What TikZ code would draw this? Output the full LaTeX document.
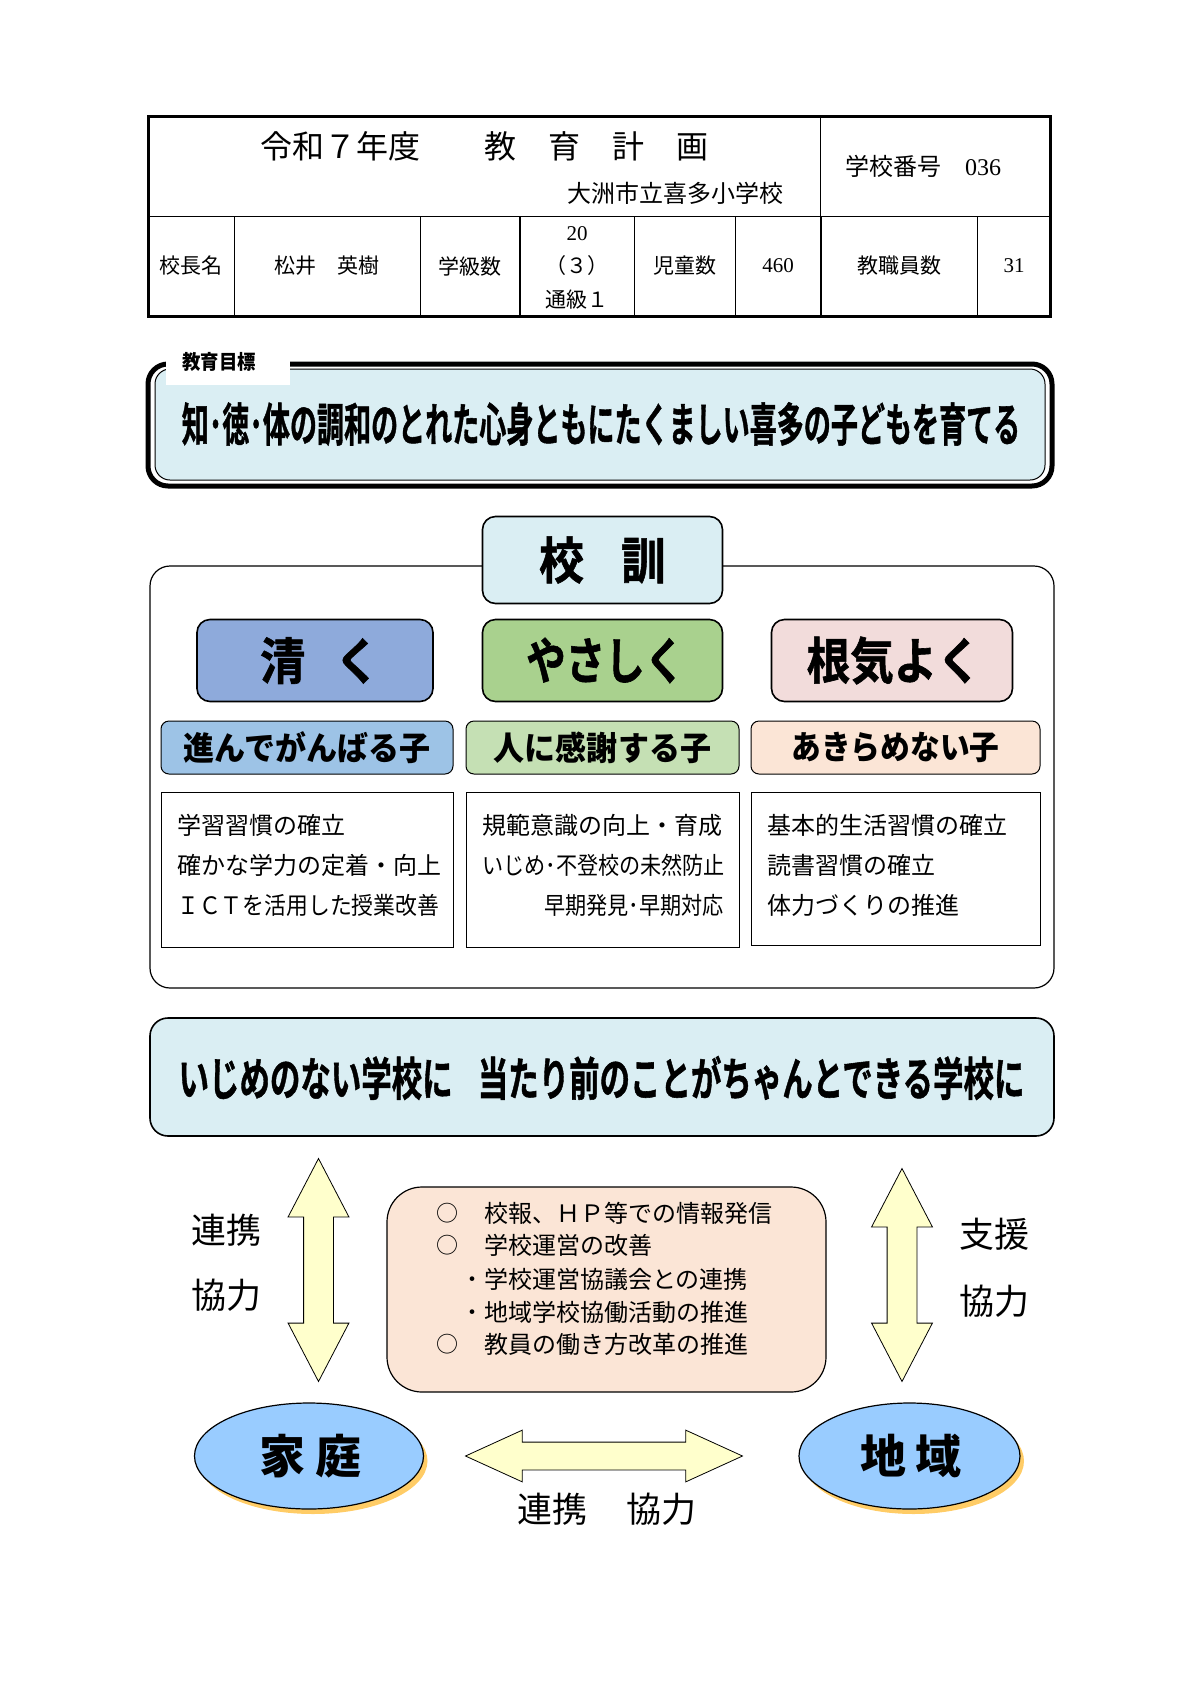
\documentclass[tikz,border=0pt]{standalone}
\usepackage{fontspec}
\setmainfont{Noto Sans CJK JP}
\newfontfamily\numfont{Liberation Serif}
\newfontfamily\heavyfont[FakeBold=1.2]{Noto Sans CJK JP Bold}
\usepackage{tikz}
\usetikzlibrary{shapes.geometric}
\usetikzlibrary{shapes.arrows}
\usetikzlibrary{shadows}

\definecolor{paleblue}{HTML}{DAEEF3}
\definecolor{kiyoblue}{HTML}{8EAADB}
\definecolor{yasagreen}{HTML}{A9D18E}
\definecolor{konpink}{HTML}{F2DCDB}
\definecolor{kiyosub}{HTML}{9DC3E6}
\definecolor{yasasub}{HTML}{C5E0B4}
\definecolor{peach}{HTML}{FBE5D6}
\definecolor{arrowyellow}{HTML}{FFFFCC}
\definecolor{homeblue}{HTML}{99CCFF}
\definecolor{shadowgold}{HTML}{FFCC66}

\newcommand{\sized}[1]{\fontsize{#1}{#1}\selectfont}

\begin{document}
\begin{tikzpicture}[
    x=1pt, y=-1pt,
    cell/.style={
        % The shape:
        rectangle,
        inner sep=0pt,
        % The border
        draw=black,
        line width=.8pt,
        % Font
        font=\sized{21}
    },
    panel/.style={
        % The shape:
        rectangle,
        rounded corners=13pt,
        inner sep=0pt,
        % The border
        draw=black,
        line width=1.6pt
    },
    motto/.style={
        panel,
        minimum width=240pt,
        minimum height=82pt,
        font=\sized{50}\heavyfont
    },
    childbox/.style={
        panel,
        rounded corners=8pt,
        line width=1pt,
        minimum height=53pt,
        font=\sized{33}\bfseries
    },
    habitbox/.style={
        rectangle,
        draw=black,
        line width=1pt
    },
    habit/.style={
        anchor=west,
        inner sep=0pt,
        font=\sized{24}
    },
    planmarker/.style={
        inner sep=0pt,
        text height=20pt,
        text depth=4pt,
        font=\sized{22}
    },
    twoway/.style={
        % The shape:
        double arrow,
        inner xsep=0pt,
        % The border
        draw=black,
        line width=.8pt,
        % The filling
        fill=arrowyellow
    },
    partner/.style={
        % The shape:
        ellipse,
        inner sep=0pt,
        minimum height=106pt,
        % The border
        draw=black,
        line width=1.2pt,
        % The filling
        fill=homeblue,
        drop shadow={shadow xshift=4pt, shadow yshift=-5pt, fill=shadowgold, opacity=1},
        % Font
        font=\sized{46}\bfseries
    },
    sidelabel/.style={
        inner sep=0pt,
        font=\sized{35}
    }]

    \useasboundingbox (0,0) rectangle (1200,1698);

    % The table
    \node [cell, minimum width=672pt, minimum height=100pt] (titlecell) at (484.5,166) {};
    \node [cell, minimum width=229.5pt, minimum height=100pt] (numbercell) at (935.5,166) {};
    \node [inner sep=0pt, font=\sized{32}] (title) at (484,146) {令和７年度　　教　育　計　画};
    \node [inner sep=0pt, font=\sized{24}] (school) at (675,193) {大洲市立喜多小学校};
    \node [inner sep=0pt, font=\sized{24}] (number) at (923,166) {学校番号　{\numfont 036}};

    \foreach \cellx/\cellw/\celltext in {
        191/86/校長名,
        327/186/松井　英樹,
        470/100/学級数,
        577/115/{},
        685/101/児童数,
        778/86/{\numfont 460},
        899/157/教職員数,
        1014/73/{\numfont 31}}
    {
        \node [cell, minimum width=\cellw pt, minimum height=100pt] (cell\cellx) at (\cellx,266) {\celltext};
    }
    \foreach \rowy/\rowtext in {234/{\numfont 20}, 266/（３）, 300/通級１}
    {
        \node [inner sep=0pt, font=\sized{21}] (classes\rowy) at (577,\rowy) {\rowtext};
    }
    \node [rectangle, draw=black, line width=3pt, minimum width=902pt, minimum height=200pt] (tableframe) at (599.5,216) {};

    % The goal
    \node [panel, rounded corners=20pt, line width=5pt, minimum width=904pt, minimum height=122pt] (goalouter) at (600,425) {};
    \node [panel, rounded corners=15pt, line width=1pt, fill=paleblue, minimum width=890pt, minimum height=111pt] (goalinner) at (600,424.5) {};
    \node [fill=white, inner sep=0pt, minimum width=124pt, minimum height=40pt] (goaltab) at (228,365) {};
    \node [inner sep=0pt, font=\sized{20}\bfseries] (goallabel) at (219,362) {\scalebox{.92}[1]{教育目標}};
    \node [inner sep=0pt, font=\sized{46}\heavyfont] (goaltext) at (601,424) {\scalebox{.588}[1]{知･徳･体の調和のとれた心身ともにたくましい喜多の子どもを育てる}};

    % The school motto
    \node [panel, rounded corners=20pt, line width=1.2pt, minimum width=904pt, minimum height=422pt] (mottoframe) at (602,777) {};
    \node [motto, minimum height=87pt, fill=paleblue] (motto) at (602.5,560) {\scalebox{.9}[1]{校\hspace{41pt}訓}};
    \node [motto, minimum width=236pt, fill=kiyoblue] (kiyoku) at (315,660.5) {\scalebox{.9}[1]{\hspace*{11pt}清\hspace{33pt}く}};
    \node [motto, fill=yasagreen] (yasashiku) at (602.5,660.5) {\scalebox{.79}[1]{\hspace*{7pt}やさしく}};
    \node [motto, minimum width=241pt, fill=konpink] (konki) at (892,660.5) {\scalebox{.87}[1]{\hspace*{4pt}根気よく}};

    \foreach \boxname/\boxx/\boxw/\boxcolor/\boxtext/\boxscale/\listy/\listh in {
        kiyo/307/292/kiyosub/進んでがんばる子/.94/870/155,
        yasa/602.5/273/yasasub/人に感謝する子/.94/870/155,
        kon/895.5/289/peach/あきらめない子/.9/869/153}
    {
        \node [childbox, minimum width=\boxw pt, fill=\boxcolor] (\boxname sub) at (\boxx,747.5) {\scalebox{\boxscale}[1]{\boxtext}};
        \node [habitbox, minimum width=\boxw pt, minimum height=\listh pt] (\boxname list) at (\boxx,\listy) {};
    }

    \foreach \linex/\liney/\linetext in {
        177/825/学習習慣の確立,
        177/865/確かな学力の定着・向上,
        482/825/規範意識の向上・育成,
        767/825/基本的生活習慣の確立,
        767/865/読書習慣の確立,
        767/905/体力づくりの推進}
    {
        \node [habit] (habit\linex-\liney) at (\linex,\liney) {\linetext};
    }
    \node [habit] (habit177-905) at (177,905) {\scalebox{.91}[1]{ＩＣＴを活用した授業改善}};
    \node [habit] (habit482-865) at (482,865) {\scalebox{.88}[1]{いじめ･不登校の未然防止}};
    \node [habit, anchor=east] (habit482-905) at (724,905) {\scalebox{.88}[1]{早期発見･早期対応}};

    % The band
    \node [panel, rounded corners=18pt, fill=paleblue, minimum width=904pt, minimum height=118pt] (band) at (602,1077) {};
    \node [inner sep=0pt, font=\sized{46}\heavyfont] (bandtext) at (601.5,1078) {\scalebox{.662}[1]{いじめのない学校に\hspace{38pt}当たり前のことがちゃんとできる学校に}};

    % The centre box
    \node [panel, rounded corners=35pt, line width=1.2pt, fill=peach, minimum width=439pt, minimum height=205pt] (plans) at (606.5,1289.5) {};
    \foreach \planmark/\planx/\plany/\plantext in {
        ○/447/1213/校報、ＨＰ等での情報発信,
        ○/447/1245/学校運営の改善,
        ・/472/1279/学校運営協議会との連携,
        ・/472/1312/地域学校協働活動の推進,
        ○/447/1344/教員の働き方改革の推進}
    {
        \node [planmarker] (mark\plany) at (\planx,\plany) {\planmark};
        \node [habit] (plan\plany) at (484,\plany) {\plantext};
    }

    % The arrows
    \node [twoway, rotate=90, inner ysep=14.5pt, minimum height=223pt, double arrow head extend=15.5pt, double arrow tip angle=55] (homearrow) at (318.5,1270) {};
    \node [twoway, rotate=90, inner ysep=14.5pt, minimum height=213pt, double arrow head extend=15.5pt, double arrow tip angle=55] (areaarrow) at (902,1275) {};
    \node [twoway, inner ysep=13.5pt, minimum height=277pt, double arrow head extend=12pt, double arrow tip angle=49] (botharrow) at (604,1456) {};

    \node [sidelabel] (homelabela) at (226,1230) {連携};
    \node [sidelabel] (homelabelb) at (226,1295) {協力};
    \node [sidelabel] (arealabela) at (994,1234.5) {支援};
    \node [sidelabel] (arealabelb) at (994,1301) {協力};
    \node [sidelabel] (bothlabel) at (607,1509) {連携\hspace{39pt}協力};

    % The partners
    \node [partner, minimum width=229pt] (home) at (309,1456) {\hspace*{3pt}家\hspace{10pt}庭};
    \node [partner, minimum width=221pt] (area) at (909.5,1456) {\hspace*{3pt}地\hspace{10pt}域};
\end{tikzpicture}
\end{document}
